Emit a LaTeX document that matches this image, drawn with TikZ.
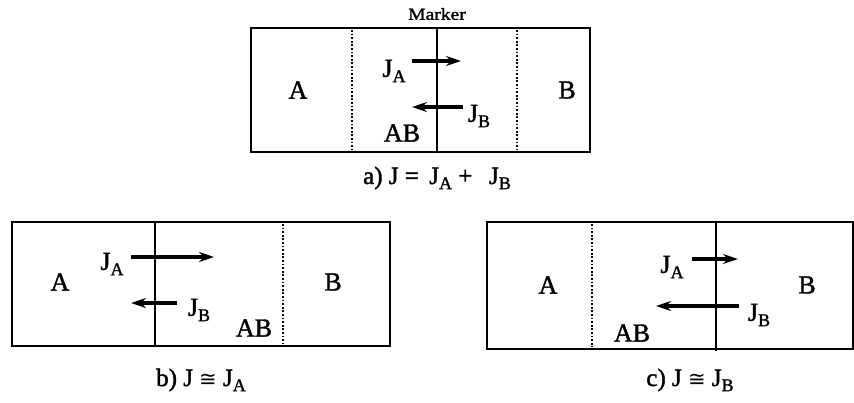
\documentclass[tikz,border=0pt]{standalone}
\usepackage{fontspec}
\setmainfont{Liberation Serif}
\newfontfamily\symf{DejaVu Sans}
\usetikzlibrary{arrows.meta}
\newcommand\subx[1]{\raisebox{-0.45ex}{\fontsize{18}{18}\selectfont\addfontfeature{FakeBold=1.5} #1}}
\begin{document}
\begin{tikzpicture}[x=1pt,y=-1pt,
  boxline/.style={line width=2.4pt},
  dotline/.style={line width=2.6pt,dash pattern=on 1.8pt off 1.8pt},
  flux/.style={line width=3.4pt,-{Stealth[length=15pt,width=10pt]}},
  lab/.style={font=\fontsize{26}{28}\selectfont\addfontfeature{FakeBold=1.5},inner sep=0pt},
  captxt/.style={font=\fontsize{25}{28}\selectfont\addfontfeature{FakeBold=1.5},inner sep=0pt}]
\useasboundingbox (0,0) rectangle (854,402);
% ---- a ----
\draw[boxline] (251,28) rectangle (590,152);
\draw[dotline] (352,30) -- (352,150);
\draw[dotline] (517,30) -- (517,150);
\draw[boxline] (437,28) -- (437,152);
\node[inner sep=0pt,font=\fontsize{17}{17}\selectfont\addfontfeature{FakeBold=1.5}] (mk) at (437,14) {\scalebox{1.15}[1]{Marker}};
\node[lab] (aA) at (298,90) {A};
\node[lab] (aB) at (567,90) {B};
\node[lab] (aAB) at (402,133) {AB};
\node[lab] (aJA) at (394,71) {J\subx{A}};
\node[lab] (aJB) at (479,116) {J\subx{B}};
\coordinate (a1) at (412,61); \coordinate (a2) at (461,61);
\coordinate (a3) at (463,107); \coordinate (a4) at (412,107);
\draw[flux] (a1) -- (a2);
\draw[flux] (a3) -- (a4);
\node[captxt] (ca) at (437,178) {a) J = \,J\subx{A} + \, J\subx{B}};
% ---- b ----
\draw[boxline] (12,222) rectangle (390,346);
\draw[boxline] (155,222) -- (155,346);
\draw[dotline] (283,224) -- (283,344);
\node[lab] (bA) at (60,282) {A};
\node[lab] (bB) at (333,282) {B};
\node[lab] (bAB) at (254,328) {AB};
\node[lab] (bJA) at (112,264) {J\subx{A}};
\node[lab] (bJB) at (199,310) {J\subx{B}};
\coordinate (b1) at (131,257); \coordinate (b2) at (214,257);
\coordinate (b3) at (177,303); \coordinate (b4) at (131,303);
\draw[flux] (b1) -- (b2);
\draw[flux] (b3) -- (b4);
\node[captxt] (cb) at (201,380) {b) J {\symf\fontsize{21}{21}\selectfont ≅} J\subx{A}};
% ---- c ----
\draw[boxline] (487,222) -- (853,222) -- (853,349) -- (487,349) -- cycle;
\draw[dotline] (592,224) -- (592,347);
\draw[boxline] (716,222) -- (716,351);
\node[lab] (cA) at (548,285) {A};
\node[lab] (cB) at (807,285) {B};
\node[lab] (cAB) at (632,333) {AB};
\node[lab] (cJA) at (672,267) {J\subx{A}};
\node[lab] (cJB) at (759,315) {J\subx{B}};
\coordinate (c1) at (692,259); \coordinate (c2) at (738,259);
\coordinate (c3) at (739,306); \coordinate (c4) at (656,306);
\draw[flux] (c1) -- (c2);
\draw[flux] (c3) -- (c4);
\node[captxt] (cc) at (690,380) {c) J {\symf\fontsize{21}{21}\selectfont ≅} J\subx{B}};
\end{tikzpicture}
\end{document}
